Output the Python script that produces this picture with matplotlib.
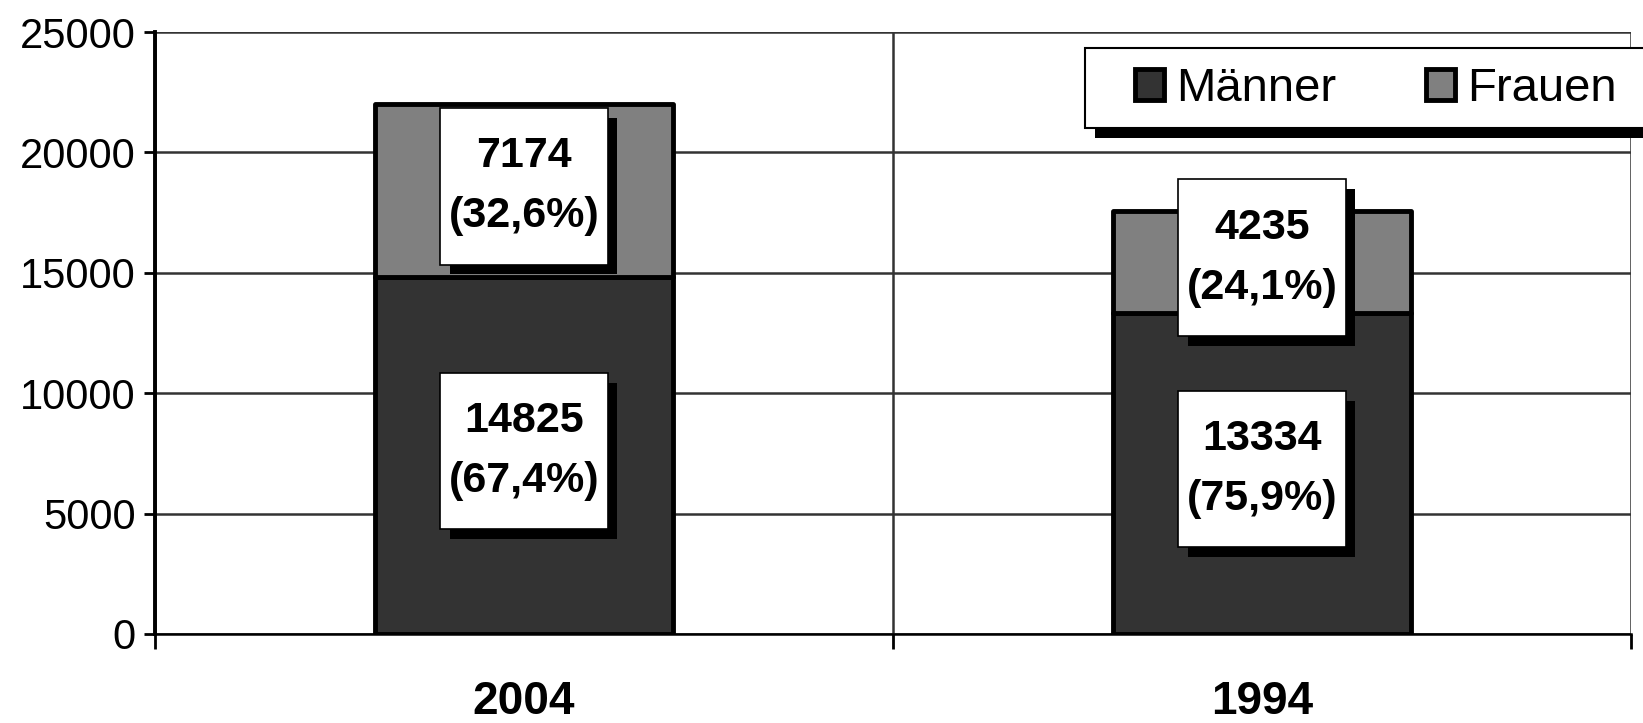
import matplotlib
matplotlib.use('Agg')
import matplotlib.pyplot as plt
import matplotlib.patheffects as pe
from matplotlib.patches import Rectangle

plt.rcParams['font.family'] = ['Liberation Sans', 'DejaVu Sans']

# data
years = ['2004', '1994']
maenner = [14825, 13334]
frauen = [7174, 4235]
series_names = ['Männer', 'Frauen']
colors = ['#333333', '#808080']


def pct(v, total):
    return ('(%.1f%%)' % (100.0 * v / total)).replace('.', ',')


fig = plt.figure(figsize=(16.43, 7.23), dpi=100)
ax = fig.add_axes([0.0943, 0.1231, 0.8984, 0.8326])

x = list(range(len(years)))
b1 = ax.bar(x, maenner, width=0.405, color=colors[0], edgecolor='black',
            linewidth=3.5, label=series_names[0], zorder=3)
b2 = ax.bar(x, frauen, width=0.405, bottom=maenner, color=colors[1],
            edgecolor='black', linewidth=3.5, label=series_names[1], zorder=3)
for p in list(b1) + list(b2):
    p.set_joinstyle('round')

# value labels in white boxes with a black drop shadow
shadow = [pe.SimplePatchShadow(offset=(7, -7), shadow_rgbFace='black', alpha=1),
          pe.Normal()]
box_w, box_h = 0.227, 6500
for i in x:
    total = maenner[i] + frauen[i]
    for val, base in [(maenner[i], 0), (frauen[i], maenner[i])]:
        cy = base + val / 2 + 180
        r = Rectangle((i - box_w / 2, cy - box_h / 2), box_w, box_h,
                      facecolor='white', edgecolor='black', linewidth=1.2,
                      zorder=4)
        r.set_path_effects(shadow)
        ax.add_patch(r)
        ax.text(i, cy, '%d\n%s' % (val, pct(val, total)),
                ha='center', va='center', fontsize=31, fontweight='bold',
                linespacing=1.65, zorder=5)

ax.set_xlim(-0.5, len(years) - 0.5)
ax.set_ylim(0, 25000)
ax.set_yticks(range(0, 25001, 5000))
ax.tick_params(axis='y', labelsize=30, length=8, width=2, pad=6, color='black')

ax.set_xticks([-0.5, 0.5, 1.5])
ax.set_xticklabels([])
ax.tick_params(axis='x', which='major', length=11, width=2, color='black')
ax.set_xticks(x, minor=True)
ax.set_xticklabels(years, minor=True, fontsize=33, fontweight='bold')
ax.tick_params(axis='x', which='minor', length=0, pad=33)

ax.grid(True, which='major', color='#333333', linewidth=1.8)
ax.set_axisbelow(True)
for s in ['top', 'right']:
    ax.spines[s].set_visible(False)
ax.spines['left'].set_linewidth(2.8)
ax.spines['bottom'].set_linewidth(1.8)

# legend frame (runs past the right edge) with a black shadow
frame = Rectangle((0.6604, 0.823), 0.4, 0.1106, transform=fig.transFigure,
                  facecolor='white', edgecolor='black', linewidth=1.5,
                  zorder=6)
frame.set_path_effects([
    pe.SimplePatchShadow(offset=(7, -7), shadow_rgbFace='black', alpha=1),
    pe.Normal()])
fig.patches.append(frame)

leg = fig.legend(handles=[b1, b2], labels=series_names, loc='center left',
                 bbox_to_anchor=(0.6908, 0.877), ncol=2, fontsize=34,
                 frameon=False, handlelength=0.62, handleheight=0.62,
                 handletextpad=0.25, columnspacing=1.9, borderpad=0,
                 borderaxespad=0)
leg.set_zorder(7)

fig.savefig('out.png', dpi=100)
